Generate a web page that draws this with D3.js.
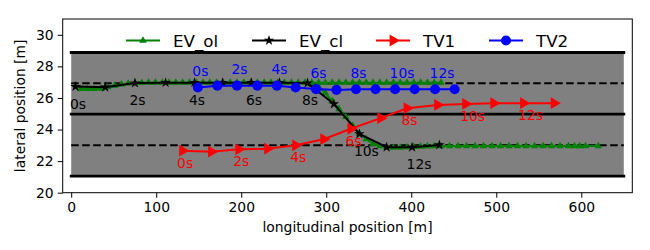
<!DOCTYPE html>
<html>
<head>
<meta charset="utf-8">
<style>
    body { margin: 0; background: #fff; }
    svg { font-family: 'DejaVu Sans', sans-serif; }
</style>
</head>
<body>
<svg width="650" height="250"></svg>

<script src="https://d3js.org/d3.v7.min.js"></script>
<script>
    // ---- data ----
    const xTicks = [0, 100, 200, 300, 400, 500, 600];
    const yTicks = [20, 22, 24, 26, 28, 30];

    const roadX = [0, 650];
    const laneSolid = [21.05, 24.97, 28.88];
    const laneDashed = [23.0, 26.93];

    const seriesNames = ["EV_ol", "EV_cl", "TV1", "TV2"];

    // EV_ol: open loop predictions (two pieces)
    const olKeepX = [11, 19, 27, 35, 43, 51, 59, 67, 75, 83, 91, 99, 107, 115, 123, 131, 139, 147, 155, 163,
        171, 179, 187, 195, 203, 211, 219, 227, 235, 243, 251, 259, 267, 275, 283, 291, 299, 307, 315, 323,
        331, 339, 347, 355, 363, 371, 379, 387, 395, 403, 411, 419, 427, 435];
    const olKeepY = [26.58, 26.58, 26.58, 26.6, 26.68, 26.78, 26.86, 26.92, 26.95, 26.96, 26.97, 26.97, 26.97, 26.97, 26.97, 26.97, 26.97, 26.97, 26.97, 26.97,
        26.97, 26.97, 26.97, 26.97, 26.97, 26.97, 26.97, 26.97, 26.97, 26.97, 26.97, 26.97, 26.97, 26.97, 26.97, 26.97, 26.97, 26.97, 26.97, 26.97,
        26.97, 26.97, 26.97, 26.97, 26.97, 26.97, 26.97, 26.97, 26.97, 26.97, 26.97, 26.97, 26.97, 26.97];
    const olChangeX = [283, 291, 299, 307, 315, 323, 331, 339, 347, 355, 363, 371, 379, 387, 395, 403, 411, 419,
        427, 435, 445, 455, 465, 475, 485, 495, 505, 515, 525, 535, 545, 555, 565, 575, 585, 592, 598, 605, 620];
    const olChangeY = [26.9, 26.7, 26.3, 25.8, 25.3, 24.8, 24.25, 23.75, 23.4, 23.1, 22.95, 22.88, 22.86, 22.86, 22.88, 22.9, 22.92, 22.94,
        22.95, 22.95, 22.95, 22.95, 22.95, 22.95, 22.95, 22.95, 22.95, 22.95, 22.95, 22.95, 22.95, 22.95, 22.95, 22.95, 22.95, 22.95, 22.95, 22.95, 22.95];

    // EV_cl: closed loop, one point per second (t = 0..13)
    const clX = [5, 40, 75, 111, 145, 178, 212, 245, 278, 309, 339, 371, 401, 433];
    const clY = [26.72, 26.68, 26.94, 26.97, 26.97, 26.97, 26.97, 26.97, 26.94, 25.62, 23.72, 22.88, 22.88, 23.02];

    // TV1
    const tv1X = [131, 165, 197, 231, 264, 297, 329, 364, 395, 431, 464, 497, 532, 568];
    const tv1Y = [22.66, 22.6, 22.75, 22.79, 23.0, 23.39, 24.05, 24.72, 25.35, 25.56, 25.62, 25.67, 25.67, 25.67];

    // TV2
    const tv2X = [149, 172, 195, 219, 242, 264, 288, 312, 335, 358, 381, 404, 428, 451];
    const tv2Y = [26.66, 26.78, 26.78, 26.78, 26.78, 26.66, 26.56, 26.51, 26.55, 26.55, 26.55, 26.55, 26.55, 26.55];

    const timeLabels = ["0s", "2s", "4s", "6s", "8s", "10s", "12s"];
    const labelIdx = [0, 2, 4, 6, 8, 10, 12];

    // ---- layout ----
    const svg = d3.select("svg");
    const mLeft = 62.7, mRight = 632.3, mTop = 19, mBottom = 192.7;

    const x = d3.scaleLinear().domain([-10, 660]).range([mLeft, mRight]);
    const y = d3.scaleLinear().domain([20, 31]).range([mBottom, mTop]);

    const zip = (xs, ys) => xs.map((v, i) => [v, ys[i]]);
    const line = d3.line().x(d => x(d[0])).y(d => y(d[1]));

    // road
    svg.append("rect")
        .attr("x", x(roadX[0]))
        .attr("y", y(laneSolid[2]))
        .attr("width", x(roadX[1]) - x(roadX[0]))
        .attr("height", y(laneSolid[0]) - y(laneSolid[2]))
        .attr("fill", "#808080");

    svg.selectAll(".lane-solid")
        .data(laneSolid)
        .join("line")
        .attr("x1", x(roadX[0])).attr("x2", x(roadX[1]))
        .attr("y1", d => y(d)).attr("y2", d => y(d))
        .attr("stroke", "#000")
        .attr("stroke-width", 2.8)
        .attr("stroke-linecap", "square");

    svg.selectAll(".lane-dashed")
        .data(laneDashed)
        .join("line")
        .attr("x1", x(roadX[0])).attr("x2", x(roadX[1]))
        .attr("y1", d => y(d)).attr("y2", d => y(d))
        .attr("stroke", "#000")
        .attr("stroke-width", 2)
        .attr("stroke-dasharray", "7.5,3.5");

    // symbols
    const sym = {
        tri: d3.symbol().type(d3.symbolTriangle).size(24),
        star: d3.symbol().type(d3.symbolStar).size(34),
        right: d3.symbol().type(d3.symbolTriangle).size(60),
        circle: d3.symbol().type(d3.symbolCircle).size(80)
    };

    function drawSeries(pts, color, marker, rot) {
        svg.append("path")
            .attr("d", line(pts))
            .attr("fill", "none")
            .attr("stroke", color)
            .attr("stroke-width", 2);
        svg.append("g").selectAll("path")
            .data(pts)
            .join("path")
            .attr("d", marker())
            .attr("transform", d => `translate(${x(d[0])},${y(d[1])}) rotate(${rot})`)
            .attr("fill", color);
    }

    function drawLabels(xs, ys, color, dy) {
        svg.append("g").selectAll("text")
            .data(labelIdx)
            .join("text")
            .attr("x", i => x(xs[i]) - 5.5)
            .attr("y", i => y(ys[i]) + dy)
            .attr("fill", color)
            .attr("font-size", "13.9px")
            .text((i, k) => timeLabels[k]);
    }

    drawSeries(zip(olKeepX, olKeepY), "green", sym.tri, 0);
    drawSeries(zip(olChangeX, olChangeY), "green", sym.tri, 0);
    drawSeries(zip(clX, clY), "#000", sym.star, 0);
    drawSeries(zip(tv1X, tv1Y), "red", sym.right, 90);
    drawSeries(zip(tv2X, tv2Y), "blue", sym.circle, 0);

    drawLabels(clX, clY, "#000", 22);
    drawLabels(tv1X, tv1Y, "red", 17);
    drawLabels(tv2X, tv2Y, "blue", -11.5);

    // frame
    svg.append("rect")
        .attr("x", mLeft).attr("y", mTop)
        .attr("width", mRight - mLeft).attr("height", mBottom - mTop)
        .attr("fill", "none")
        .attr("stroke", "#000")
        .attr("stroke-width", 1);

    // axes
    const xAxis = svg.append("g")
        .attr("transform", `translate(0,${mBottom})`)
        .call(d3.axisBottom(x).tickValues(xTicks).tickSize(5).tickPadding(4).tickSizeOuter(0));
    const yAxis = svg.append("g")
        .attr("transform", `translate(${mLeft},0)`)
        .call(d3.axisLeft(y).tickValues(yTicks).tickSize(5).tickPadding(4).tickSizeOuter(0));
    [xAxis, yAxis].forEach(a => {
        a.select(".domain").remove();
        a.selectAll("text").attr("font-size", "13.9px").attr("font-family", "'DejaVu Sans', sans-serif").attr("fill", "#000");
        a.selectAll("line").attr("stroke", "#000");
    });

    svg.append("text")
        .attr("x", (mLeft + mRight) / 2)
        .attr("y", 232)
        .attr("text-anchor", "middle")
        .attr("font-size", "13.9px")
        .text("longitudinal position [m]");

    svg.append("text")
        .attr("transform", `translate(25,${(mTop + mBottom) / 2}) rotate(-90)`)
        .attr("text-anchor", "middle")
        .attr("font-size", "13.9px")
        .text("lateral position [m]");

    // legend
    const legendColors = ["green", "#000", "red", "blue"];
    const legendSym = [sym.tri, sym.star, sym.right, sym.circle];
    const legendRot = [0, 0, 90, 0];
    const legendX = [126, 252, 376, 489];
    const legend = svg.append("g").attr("transform", "translate(0,40.5)");
    seriesNames.forEach((name, i) => {
        const g = legend.append("g").attr("transform", `translate(${legendX[i]},0)`);
        g.append("line").attr("x1", 0).attr("x2", 34).attr("stroke", legendColors[i]).attr("stroke-width", 2);
        g.append("path").attr("d", legendSym[i]()).attr("fill", legendColors[i])
            .attr("transform", `translate(17,0) rotate(${legendRot[i]})`);
        g.append("text").attr("x", 47).attr("y", 6).attr("font-size", "16.7px").text(name);
    });
</script>
</body>
</html>
